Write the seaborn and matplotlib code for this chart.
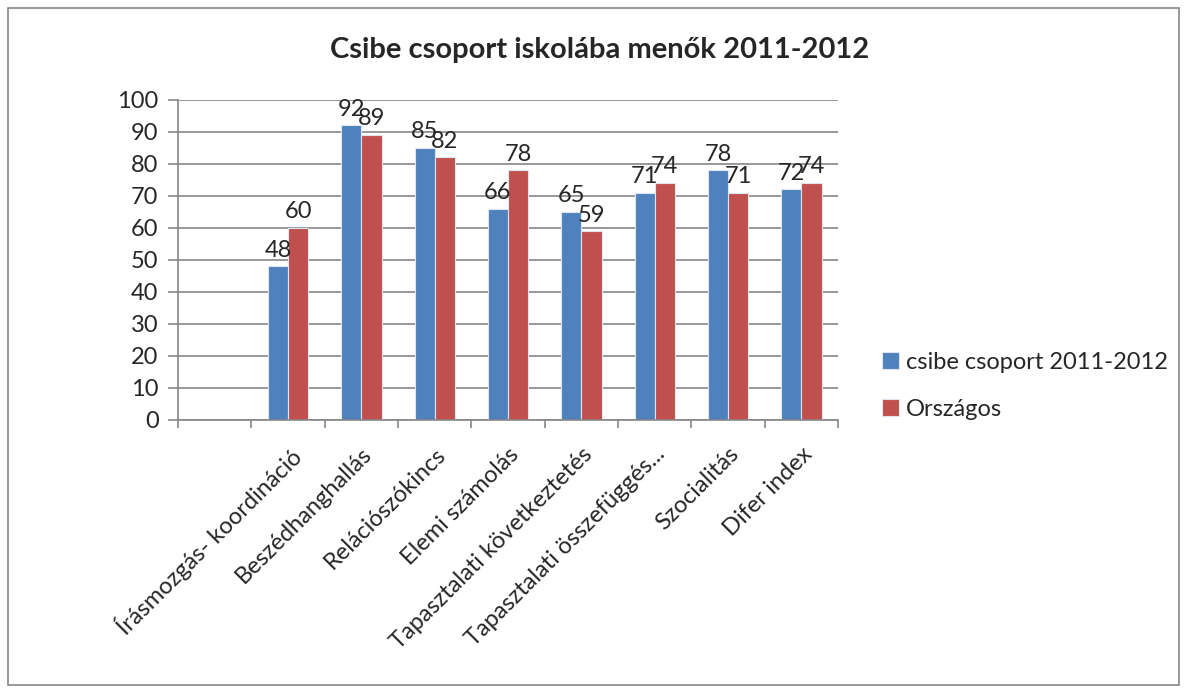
import pandas as pd
import numpy as np
import matplotlib
matplotlib.use("Agg")
import matplotlib.pyplot as plt
import matplotlib.patches as patches
import seaborn as sns

# chart data
categories = ["", "Írásmozgás- koordináció", "Beszédhanghallás", "Relációszókincs",
              "Elemi számolás", "Tapasztalati következtetés",
              "Tapasztalati összefüggés...", "Szocialitás", "Difer index"]
csibe = [np.nan, 48, 92, 85, 66, 65, 71, 78, 72]
orszagos = [np.nan, 60, 89, 82, 78, 59, 74, 71, 74]
series_names = ["csibe csoport 2011-2012", "Országos"]
colors = ["#4F81BD", "#C0504D"]

df = pd.DataFrame({
    "kategoria": categories * 2,
    "ertek": csibe + orszagos,
    "sorozat": [series_names[0]] * len(categories) + [series_names[1]] * len(categories),
})

sns.set_theme(style="white")
plt.rcParams['font.family'] = ['Lato', 'DejaVu Sans']

fig = plt.figure(figsize=(11.87, 6.93), dpi=100)
ax = fig.add_axes([0.150, 0.394, 0.556, 0.462])

sns.barplot(data=df, x="kategoria", y="ertek", hue="sorozat", order=categories,
            hue_order=series_names, palette=colors, saturation=1, width=0.55, gap=0,
            errorbar=None, ax=ax, legend=True, edgecolor="#dde6f0", linewidth=0.8)

for cont in ax.containers:
    labels = ["" if np.isnan(v) else f"{v:.0f}" for v in cont.datavalues]
    ax.bar_label(cont, labels=labels, fontsize=17, padding=4)

ax.set_ylim(0, 100)
ax.set_xlim(-0.5, len(categories) - 0.5)
ax.set_yticks(range(0, 101, 10))
ax.yaxis.grid(True, color="#868686", linewidth=1.2)
ax.set_axisbelow(True)
ax.set_xlabel("")
ax.set_ylabel("")

gray = "#868686"
for s in ["top", "right"]:
    ax.spines[s].set_visible(False)
for s in ["left", "bottom"]:
    ax.spines[s].set_color(gray)
    ax.spines[s].set_linewidth(1.2)

ax.tick_params(axis="y", labelsize=17, length=7, color=gray, width=1.2, left=True, pad=7)
ax.set_xticks(range(len(categories)))
ax.set_xticklabels(categories, rotation=45, ha="right", rotation_mode="anchor", fontsize=17)
ax.tick_params(axis="x", which="major", length=0, pad=17)
ax.set_xticks(np.arange(-0.5, len(categories), 1), minor=True)
ax.tick_params(axis="x", which="minor", length=6, color=gray, width=1.2, bottom=True)

ax.legend(loc="center left", bbox_to_anchor=(0.7255, 0.443), bbox_transform=fig.transFigure,
          frameon=False, fontsize=17, handlelength=0.7, handleheight=0.7,
          handletextpad=0.3, labelspacing=1.1)

fig.text(0.505, 0.928, "Csibe csoport iskolába menők 2011-2012", ha="center", va="center",
         fontsize=21, fontweight="bold")

fig.patches.append(patches.Rectangle((0.007, 0.012), 0.986, 0.976, transform=fig.transFigure,
                                     fill=False, edgecolor=gray, linewidth=1.2))

fig.savefig("out.png", dpi=100)
